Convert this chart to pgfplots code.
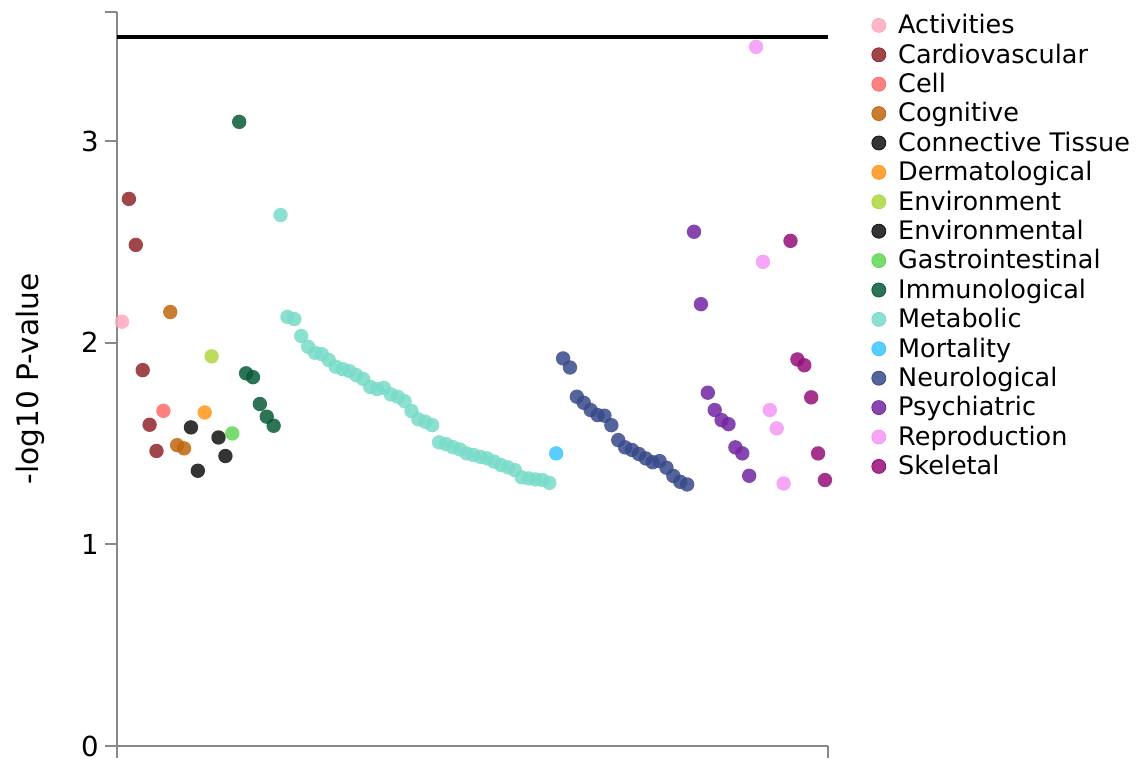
\documentclass[border=0pt]{standalone}
\usepackage{fontspec}
\setmainfont{DejaVu Sans}
\usepackage{pgfplots}
\pgfplotsset{compat=1.18}
\definecolor{cAct}{HTML}{FFA7BE}
\definecolor{cCar}{HTML}{8F262C}
\definecolor{cCel}{HTML}{FF6A6A}
\definecolor{cCog}{HTML}{BE660E}
\definecolor{cCon}{HTML}{111111}
\definecolor{cDer}{HTML}{FF951A}
\definecolor{cEnv}{HTML}{ADD63D}
\definecolor{cEnl}{HTML}{111111}
\definecolor{cGas}{HTML}{60D655}
\definecolor{cImm}{HTML}{085A37}
\definecolor{cMet}{HTML}{78DBC8}
\definecolor{cMor}{HTML}{3DC4FF}
\definecolor{cNeu}{HTML}{37498A}
\definecolor{cPsy}{HTML}{7226A1}
\definecolor{cRep}{HTML}{F496F4}
\definecolor{cSke}{HTML}{950E78}
\definecolor{spine}{HTML}{888888}
\newcommand{\chartfont}{\fontsize{12.75pt}{15pt}\selectfont}
\newcommand{\tickfont}{\fontsize{13.8pt}{16pt}\selectfont}
\newcommand{\labelfont}{\fontsize{14.8pt}{17pt}\selectfont}
\pgfplotsset{
  cat/.style={only marks, mark=*, mark size=3.6pt, color=#1,
    mark options={fill=#1, fill opacity=0.85, draw opacity=0},
    legend image code/.code={\fill[#1, fill opacity=0.85] (0pt,0pt) circle (3.5pt);}},
}
\begin{document}
\begin{tikzpicture}
\useasboundingbox (0,0) rectangle (569.5pt,382pt);
\begin{axis}[
  scale only axis, width=355.5pt, height=367pt,
  at={(58.5pt,9pt)}, anchor=south west,
  xmin=-0.73, xmax=102.44, ymin=0, ymax=3.64,
  axis x line*=bottom, axis y line*=left,
  axis line style={-, draw=spine, line width=1pt},
  every inner x axis line/.append style={-},
  every inner y axis line/.append style={-},
  xtick=\empty, ytick={0,1,2,3},
  tick align=outside, major tick length=6pt,
  tick style={draw=spine, line width=1pt},
  /pgf/number format/assume math mode=true,
  tick label style={font=\tickfont},
  yticklabel style={inner sep=0pt, xshift=-3pt},
  ylabel={-log10 P-value},
  ylabel style={font=\labelfont, at={(axis description cs:-0.1224,0.5)}, anchor=center},
  clip=false,
  legend style={at={(axis description cs:1.0605,1.0023)}, anchor=north west,
    draw=none, fill=none, inner xsep=0pt, inner ysep=0pt, row sep=0pt,
    font=\chartfont,
    nodes={inner sep=0pt, text height=11.5pt, text depth=3.2pt, anchor=west},
    /tikz/every odd column/.append style={column sep=6pt}},
  legend cell align=left,
]
\addplot[black, line width=2pt, forget plot] coordinates {(-0.73,3.515) (102.44,3.515)};
\addplot[cat=cAct] coordinates {(0,2.104)};
\addlegendentry{Activities}
\addplot[cat=cCar] coordinates {(1,2.713)(2,2.485)(3,1.864)(4,1.593)(5,1.463)};
\addlegendentry{Cardiovascular}
\addplot[cat=cCel] coordinates {(6,1.662)};
\addlegendentry{Cell}
\addplot[cat=cCog] coordinates {(7,2.152)(8,1.492)(9,1.476)};
\addlegendentry{Cognitive}
\addplot[cat=cCon] coordinates {(10,1.580)(11,1.365)};
\addlegendentry{Connective Tissue}
\addplot[cat=cDer] coordinates {(12,1.654)};
\addlegendentry{Dermatological}
\addplot[cat=cEnv] coordinates {(13,1.932)};
\addlegendentry{Environment}
\addplot[cat=cEnl] coordinates {(14,1.530)(15,1.438)};
\addlegendentry{Environmental}
\addplot[cat=cGas] coordinates {(16,1.550)};
\addlegendentry{Gastrointestinal}
\addplot[cat=cImm] coordinates {(17,3.095)(18,1.848)(19,1.829)(20,1.696)(21,1.633)(22,1.588)};
\addlegendentry{Immunological}
\addplot[cat=cMet] coordinates {
(23,2.633)(24,2.128)(25,2.117)(26,2.033)(27,1.980)(28,1.950)(29,1.943)(30,1.914)
(31,1.881)(32,1.869)(33,1.859)(34,1.839)(35,1.820)(36,1.781)(37,1.770)(38,1.776)
(39,1.744)(40,1.732)(41,1.710)(42,1.661)(43,1.620)(44,1.608)(45,1.591)(46,1.506)
(47,1.497)(48,1.482)(49,1.471)(50,1.451)(51,1.443)(52,1.434)(53,1.426)(54,1.410)
(55,1.393)(56,1.382)(57,1.368)(58,1.332)(59,1.327)(60,1.322)(61,1.319)(62,1.305)};
\addlegendentry{Metabolic}
\addplot[cat=cMor] coordinates {(63,1.451)};
\addlegendentry{Mortality}
\addplot[cat=cNeu] coordinates {
(64,1.922)(65,1.877)(66,1.732)(67,1.702)(68,1.666)(69,1.641)(70,1.638)(71,1.591)
(72,1.517)(73,1.481)(74,1.468)(75,1.448)(76,1.426)(77,1.407)(78,1.413)(79,1.380)
(80,1.339)(81,1.310)(82,1.297)};
\addlegendentry{Neurological}
\addplot[cat=cPsy] coordinates {
(83,2.550)(84,2.191)(85,1.752)(86,1.666)(87,1.616)(88,1.596)(89,1.481)(90,1.451)(91,1.340)};
\addlegendentry{Psychiatric}
\addplot[cat=cRep] coordinates {(92,3.467)(93,2.401)(94,1.666)(95,1.575)(96,1.302)};
\addlegendentry{Reproduction}
\addplot[cat=cSke] coordinates {(97,2.505)(98,1.917)(99,1.888)(100,1.729)(101,1.451)(102,1.319)};
\addlegendentry{Skeletal}
\draw[spine, line width=1pt] (rel axis cs:0,1) -- ++(-6pt,0pt);
\draw[spine, line width=1pt] (rel axis cs:0,0) -- ++(0pt,-6pt);
\draw[spine, line width=1pt] (rel axis cs:1,0) -- ++(0pt,-6pt);
\end{axis}
\end{tikzpicture}
\end{document}
